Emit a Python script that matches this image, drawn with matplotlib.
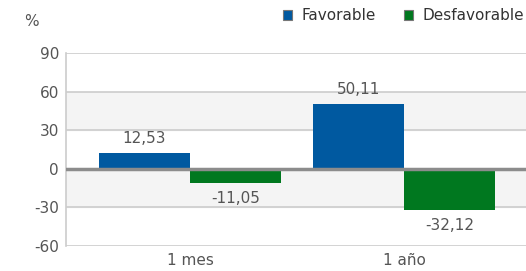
import matplotlib
matplotlib.use('Agg')
import matplotlib.pyplot as plt
from matplotlib.patches import Patch

# datos
categorias = ['1 mes', '1 año']
favorable = [12.53, 50.11]
desfavorable = [-11.05, -32.12]
series = ['Favorable', 'Desfavorable']
yticks = [-60, -30, 0, 30, 60, 90]

azul = '#0059a0'
verde = '#00781f'
gris_txt = '#555555'

plt.rcParams['font.family'] = ['DejaVu Sans']
plt.rcParams['axes.unicode_minus'] = False

fig = plt.figure(figsize=(5.26, 2.71), dpi=100)
ax = fig.add_axes([66 / 526, 1 - 246 / 271, 1 - 66 / 526, 193 / 271])

x = range(len(categorias))
w = 0.425

# bandas alternas
for lo in [-30, 30]:
    ax.axhspan(lo, lo + 30, color='#f4f4f4', zorder=0)
for t in yticks:
    ax.axhline(t, color='#cccccc', lw=1.2, zorder=1)

ax.bar([i - w / 2 for i in x], favorable, w, color=azul, zorder=2)
ax.bar([i + w / 2 for i in x], desfavorable, w, color=verde, zorder=2)
ax.axhline(0, color='#8c8c8c', lw=2.5, zorder=3)

def fmt(v):
    return ('%.2f' % v).replace('.', ',')

for i in x:
    ax.annotate(fmt(favorable[i]), (i - w / 2, favorable[i]), xytext=(0, 5),
                textcoords='offset points', ha='center', va='bottom',
                fontsize=11, color=gris_txt)
    ax.annotate(fmt(desfavorable[i]), (i + w / 2, desfavorable[i]), xytext=(0, -6),
                textcoords='offset points', ha='center', va='top',
                fontsize=11, color=gris_txt)

ax.set_xlim(-0.5794, 1.5701)
ax.set_ylim(-60, 90)
ax.set_yticks(yticks)
ax.set_xticks(list(x))
ax.set_xticklabels(categorias)
ax.tick_params(length=0, labelsize=11, labelcolor=gris_txt, pad=5)
for s in ['top', 'right', 'bottom']:
    ax.spines[s].set_visible(False)
ax.spines['left'].set_color('#cccccc')
ax.spines['left'].set_linewidth(1.2)

fig.text(31 / 526, 1 - 21 / 271, '%', fontsize=11, color=gris_txt, ha='center', va='center')

handles = [Patch(facecolor=azul, edgecolor='#777777', lw=0.8),
           Patch(facecolor=verde, edgecolor='#777777', lw=0.8)]
fig.legend(handles, series, loc='center left', bbox_to_anchor=(283 / 526, 1 - 16 / 271),
           ncol=2, frameon=False, fontsize=11, handlelength=0.6, handleheight=0.6,
           handletextpad=0.6, columnspacing=1.85, labelcolor='#333333',
           borderpad=0, borderaxespad=0)

fig.savefig('out.png', dpi=100)
